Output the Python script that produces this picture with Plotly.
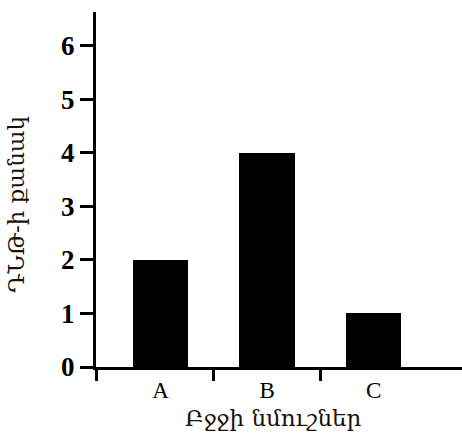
import plotly.graph_objects as go

categories = ["A", "B", "C"]
values = [2, 4, 1]
y_ticks = [0, 1, 2, 3, 4, 5, 6]
x_title = "Բջջի նմուշներ"
y_title = "ԴՆԹ-ի քանակ"

xpos = list(range(len(categories)))

fig = go.Figure()
fig.add_trace(go.Bar(x=xpos, y=values, width=0.52,
                     marker=dict(color="black", line=dict(width=0))))

fig.update_layout(
    width=462, height=436,
    margin=dict(l=96, r=0, t=12, b=69),
    paper_bgcolor="white", plot_bgcolor="white",
    showlegend=False,
    bargap=0,
)
fig.update_xaxes(
    range=[-0.606, 2.83],
    tickvals=xpos, ticktext=categories,
    ticks="", showgrid=False, zeroline=False,
    showline=True, linecolor="black", linewidth=3,
    tickfont=dict(family="Liberation Serif", size=23, color="black"),
    minor=dict(tickvals=[-0.606, 0.5, 1.5], ticks="outside", ticklen=11,
               tickwidth=3, tickcolor="black", showgrid=False),
)
fig.update_yaxes(
    range=[0, 6.63],
    tickvals=y_ticks,
    ticks="outside", ticklen=13, tickwidth=3, tickcolor="black",
    showgrid=False, zeroline=False,
    showline=True, linecolor="black", linewidth=3,
    tickfont=dict(family="Liberation Serif", size=27, color="black",
                  weight="bold"),
)
fig.add_annotation(text=x_title, xref="paper", yref="paper",
                   x=(273 - 96) / 366, y=(367 - 418) / 355,
                   showarrow=False, xanchor="center", yanchor="middle",
                   font=dict(family="DejaVu Serif", size=23, color="#1a1208"))
fig.add_annotation(text=y_title, xref="paper", yref="paper",
                   x=(16 - 96) / 366, y=(367 - 205) / 355,
                   showarrow=False, xanchor="center", yanchor="middle", textangle=-90,
                   font=dict(family="DejaVu Serif", size=23, color="#1a1208"))

fig.write_html("out.html", post_script="document.body.style.margin='0';",
               config={"displayModeBar": False})
